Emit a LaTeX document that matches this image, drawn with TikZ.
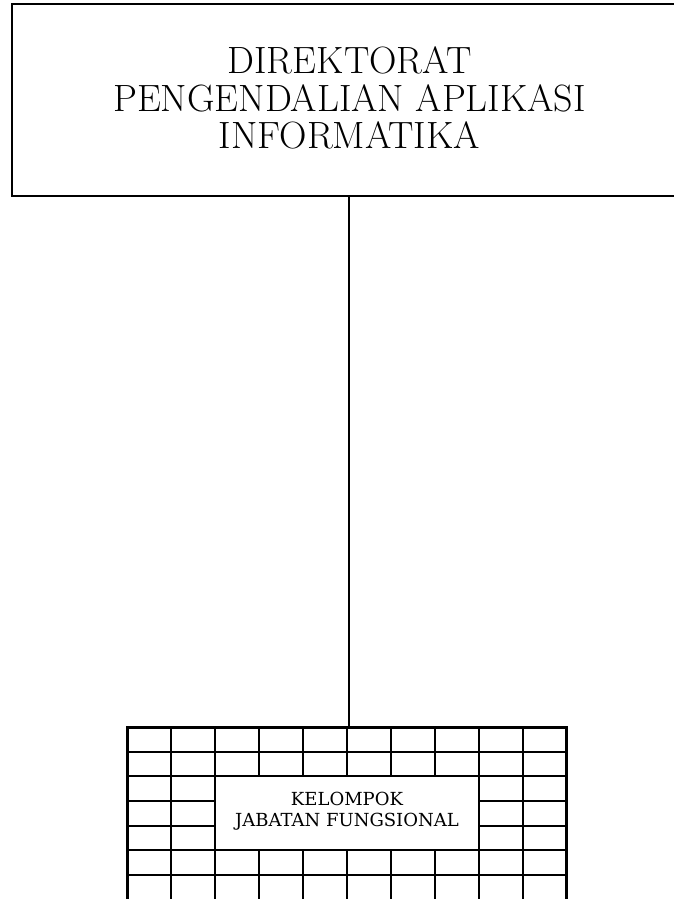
\documentclass[tikz,border=0pt]{standalone}
\usepackage{fontspec}
\newfontfamily\jffont{DejaVu Serif}

\tikzset{
  unitbox/.style={draw, line width=2.4pt, inner sep=0pt, align=center,
    minimum width=675pt, minimum height=192pt, text depth=4pt,
    font=\fontsize{38}{37.5}\selectfont},
  jfbox/.style={draw, line width=2pt, inner sep=0pt, align=center, fill=white,
    minimum width=263.4pt, minimum height=73.65pt, text depth=8pt,
    font=\jffont\fontsize{18}{20.5}\selectfont},
  gridline/.style={line width=2pt},
  gridborder/.style={line width=3pt},
}

\begin{document}
\begin{tikzpicture}[x=1pt,y=-1pt]
\useasboundingbox (0,0) rectangle (674,899);

\node[unitbox] (dir) at (349.5,100) {DIREKTORAT\\PENGENDALIAN APLIKASI\\INFORMATIKA};

% grid of the functional group, 10 columns x 7 rows
\coordinate (gtop) at (349,727.3);
\foreach \i in {1,...,9}{
  \ifnum\i<3
    \draw[gridline] ({127.5+\i*43.9},727.3) -- ({127.5+\i*43.9},901);
  \else\ifnum\i>7
    \draw[gridline] ({127.5+\i*43.9},727.3) -- ({127.5+\i*43.9},901);
  \else
    \draw[gridline] ({127.5+\i*43.9},727.3) -- ({127.5+\i*43.9},776.4);
    \draw[gridline] ({127.5+\i*43.9},850) -- ({127.5+\i*43.9},901);
  \fi\fi
}
\foreach \j in {1,2,5,6}
  \draw[gridline] (127.5,{727.3+\j*24.55}) -- (566.5,{727.3+\j*24.55});
\foreach \j in {3,4}{
  \draw[gridline] (127.5,{727.3+\j*24.55}) -- (215.3,{727.3+\j*24.55});
  \draw[gridline] (478.7,{727.3+\j*24.55}) -- (566.5,{727.3+\j*24.55});
}
\draw[gridborder] (127.5,901) -- (127.5,727.3) -- (566.5,727.3) -- (566.5,901);

\node[jfbox] (jf) at (347,813.2) {KELOMPOK\\JABATAN FUNGSIONAL};

\draw[line width=2pt] (dir.south -| gtop) -- (gtop);
\end{tikzpicture}
\end{document}
